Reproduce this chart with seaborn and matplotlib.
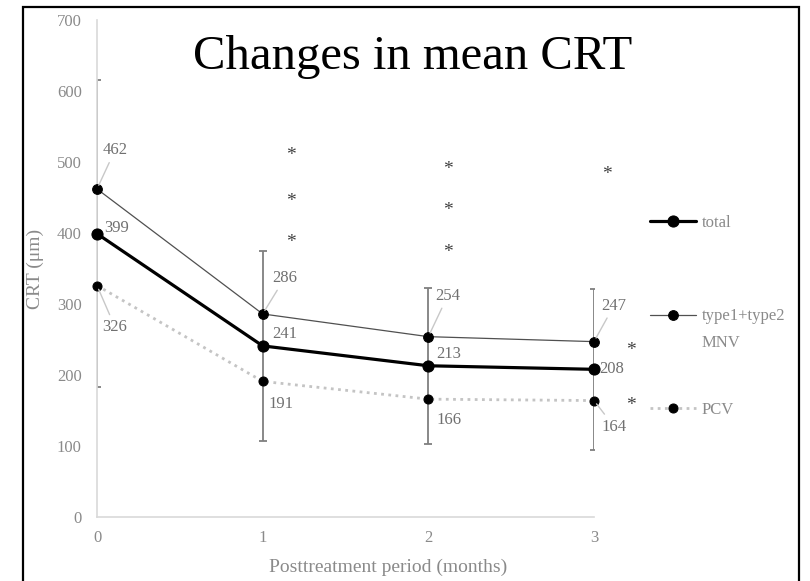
import matplotlib
matplotlib.use("Agg")
import matplotlib.pyplot as plt
from matplotlib.patches import Rectangle
import seaborn as sns
import pandas as pd

# ---------------- data ----------------
months = [0, 1, 2, 3]
total = [399, 241, 213, 208]
mnv = [462, 286, 254, 247]
pcv = [326, 191, 166, 164]
total_sd = [216, 134, 110, 113]
series_names = ["total", "type1+type2", "PCV"]
mnv_label_second_line = "MNV"
x_ticks = [0, 1, 2, 3]
y_ticks = [0, 100, 200, 300, 400, 500, 600, 700]

# significance marks (x, y in data units)
star_x = [1.17, 1.17, 1.17, 2.12, 2.12, 2.12, 3.08, 3.22, 3.22]
star_y = [509, 445, 386, 490, 431, 372, 482, 234, 157]

# ---------------- style ----------------
sns.set_theme(style="white")
plt.rcParams["font.family"] = ["Liberation Serif", "DejaVu Serif"]

fig = plt.figure(figsize=(8.10, 5.81), dpi=100)
ax = fig.add_axes([97 / 810, 1 - 517 / 581, (594 - 97) / 810, (517 - 20) / 581])

df = pd.DataFrame({"month": months, "total": total, "mnv": mnv, "pcv": pcv})

# error bars (total)
ax.errorbar(df["month"], df["total"], yerr=total_sd, fmt="none",
            ecolor="#7f7f7f", elinewidth=1.3, capsize=3, capthick=1.3, zorder=1)

sns.lineplot(data=df, x="month", y="pcv", ax=ax, color="#c4c4c4", linewidth=2.0,
             linestyle=(0, (1, 1.6)), marker="o", markersize=6.5, markerfacecolor="black",
             markeredgecolor="black", clip_on=False, zorder=3, label=series_names[2])
sns.lineplot(data=df, x="month", y="mnv", ax=ax, color="#505050", linewidth=0.9,
             marker="o", markersize=7, markerfacecolor="black",
             markeredgecolor="black", clip_on=False, zorder=4, label=series_names[1])
sns.lineplot(data=df, x="month", y="total", ax=ax, color="black", linewidth=2.3,
             marker="o", markersize=8, markerfacecolor="black",
             markeredgecolor="black", clip_on=False, zorder=5, label=series_names[0])

ax.set_xlim(0, 3)
ax.set_ylim(0, 700)
ax.set_xticks(x_ticks)
ax.set_yticks(y_ticks)
ax.set_xlabel("")
ax.set_ylabel("")
ax.tick_params(axis="both", length=0, labelsize=12, labelcolor="#8a8a8a")
ax.tick_params(axis="y", pad=11)
ax.tick_params(axis="x", pad=9)
for s in ["top", "right"]:
    ax.spines[s].set_visible(False)
for s in ["left", "bottom"]:
    ax.spines[s].set_color("#d9d9d9")
    ax.spines[s].set_linewidth(1.2)
ax.patch.set_alpha(0)

# data labels: (value series, offset in points, leader?)
label_color = "#707070"
label_specs = [
    (mnv, [(13, 28), (16, 26), (14, 29.5), (14.4, 26)], [True, True, True, True]),
    (total, [(14.4, 4.3), (16, 8.6), (15, 8.6), (13, 0)], [False, False, False, False]),
    (pcv, [(13, -30), (13, -16.6), (15, -15), (14.4, -18.7)], [True, False, False, True]),
]
for vals, offs, leaders in label_specs:
    for xm, v, off, lead in zip(months, vals, offs, leaders):
        kw = {}
        if lead:
            kw["arrowprops"] = dict(arrowstyle="-", color="#c8c8c8", lw=1.0,
                                    shrinkA=1, shrinkB=3)
        ax.annotate(str(v), xy=(xm, v), xytext=off, textcoords="offset points",
                    ha="center", va="center", fontsize=12, color=label_color,
                    annotation_clip=False, zorder=6, **kw)

for sx, sy in zip(star_x, star_y):
    ax.text(sx, sy, "*", ha="center", va="center", fontsize=14, color="#404040",
            clip_on=False)

# legend
handles, labels = ax.get_legend_handles_labels()
order = [labels.index(n) for n in series_names]
if ax.get_legend():
    ax.get_legend().remove()
leg = fig.legend([handles[i] for i in order], [labels[i] for i in order],
                 loc="upper left", bbox_to_anchor=(635 / 810, 1 - 200 / 581),
                 frameon=False, fontsize=12, labelcolor="#8a8a8a",
                 handlelength=2.75, handletextpad=0.35, labelspacing=4.65)
fig.text(702 / 810, 1 - 343 / 581, mnv_label_second_line, ha="left", va="center",
         fontsize=12, color="#8a8a8a")

# title and axis titles
fig.text(413 / 810, 1 - 69 / 581, "Changes in mean CRT", ha="center", va="baseline",
         fontsize=35, color="black", family=["Liberation Serif"])
fig.text(388 / 810, 1 - 572 / 581, "Posttreatment period (months)", ha="center",
         va="baseline", fontsize=14, color="#8a8a8a")
fig.text(35 / 810, 1 - 269 / 581, "CRT (μm)", ha="center", va="center", rotation=90,
         fontsize=14, color="#8a8a8a")

# chart border
fig.patches.append(Rectangle((23 / 810, -0.02), (799 - 23) / 810, 1 - 7 / 581 + 0.02,
                             transform=fig.transFigure, fill=False, edgecolor="black",
                             linewidth=1.6))

fig.savefig("out.png", dpi=100)
